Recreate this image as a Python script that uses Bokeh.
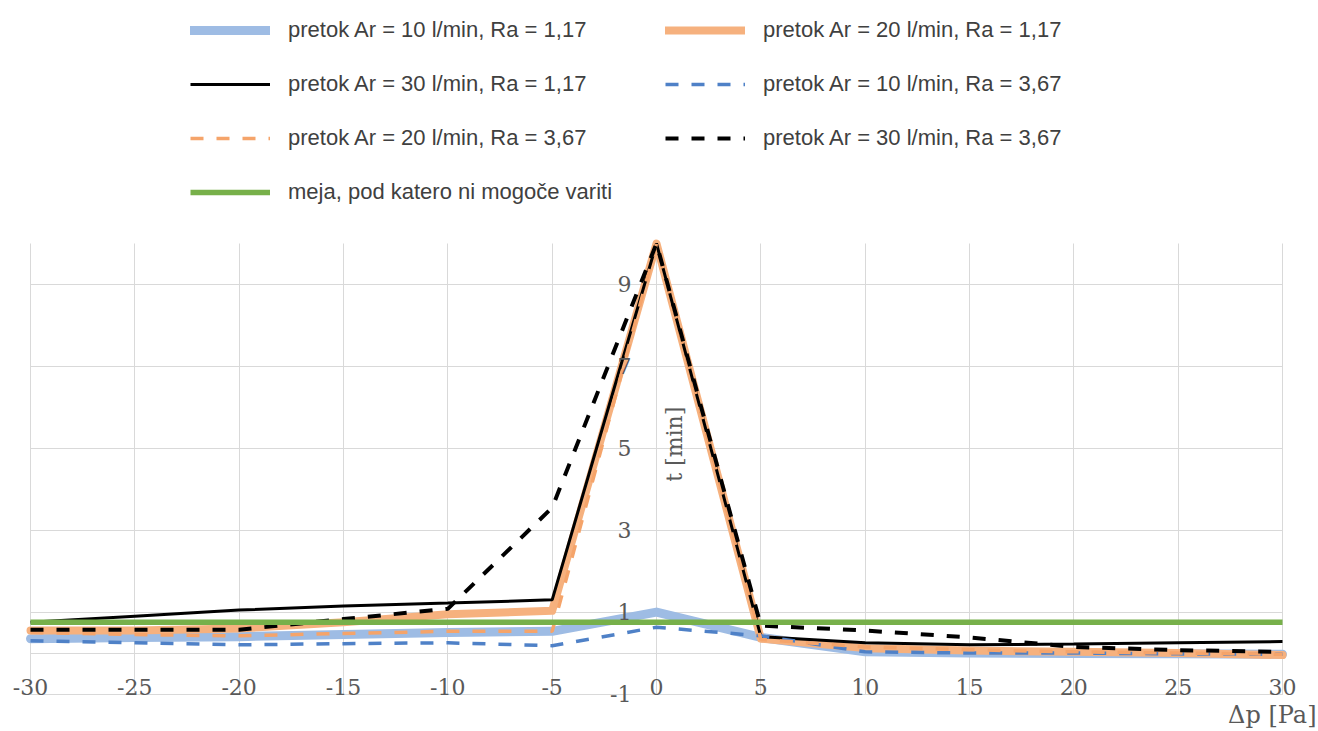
import math
from bokeh.plotting import figure
from bokeh.models import (Range1d, FixedTicker, Legend, LegendItem, Label, LinearAxis, Grid)
from bokeh.embed import file_html
from bokeh.resources import INLINE

# ---- data ----
dp = [-30, -25, -20, -15, -10, -5, 0, 5, 10, 15, 20, 25, 30]

ar10_ra117 = [0.35, 0.38, 0.40, 0.45, 0.50, 0.53, 1.00, 0.38, 0.03, 0.00, -0.01, -0.02, -0.03]
ar20_ra117 = [0.55, 0.55, 0.60, 0.75, 0.95, 1.03, 10.0, 0.35, 0.12, 0.06, 0.03, 0.00, -0.05]
ar30_ra117 = [0.75, 0.90, 1.05, 1.15, 1.22, 1.30, 10.0, 0.40, 0.25, 0.20, 0.22, 0.25, 0.28]
ar10_ra367 = [0.30, 0.25, 0.20, 0.23, 0.25, 0.18, 0.63, 0.42, 0.03, 0.00, 0.00, -0.02, -0.03]
ar20_ra367 = [0.50, 0.45, 0.42, 0.48, 0.53, 0.53, 10.0, 0.33, 0.15, 0.08, 0.03, 0.00, -0.03]
ar30_ra367 = [0.57, 0.57, 0.57, 0.83, 1.08, 3.55, 10.0, 0.67, 0.55, 0.38, 0.15, 0.07, 0.03]

limit_x = [-30, 30]
limit_y = [0.75, 0.75]

labels = [
    "pretok Ar = 10 l/min, Ra = 1,17",
    "pretok Ar = 20 l/min, Ra = 1,17",
    "pretok Ar = 30 l/min, Ra = 1,17",
    "pretok Ar = 10 l/min, Ra = 3,67",
    "pretok Ar = 20 l/min, Ra = 3,67",
    "pretok Ar = 30 l/min, Ra = 3,67",
    "meja, pod katero ni mogoče variti",
]

x_ticks = [-30, -25, -20, -15, -10, -5, 0, 5, 10, 15, 20, 25, 30]
y_ticks = [-1, 1, 3, 5, 7, 9]
y_grid = [-1, 0, 1, 3, 5, 7, 9]
x_lim = (-30, 30)
y_lim = (-1, 10)

GRID = "#D9D9D9"
TICK = "#595959"
SERIF = "DejaVu Serif"

# ---- layout: the frame covers the whole canvas; the plotted box is
# x -30..30 -> px 30..1282, y -1..10 -> px 693.5..243
W, H = 1316, 729
sx = (1282 - 30) / (x_lim[1] - x_lim[0])
sy = (693.5 - 243) / (y_lim[1] - y_lim[0])
xr = Range1d(x_lim[0] - 30 / sx, x_lim[1] + (W - 1282) / sx)
yr = Range1d(y_lim[0] - (H - 693.5) / sy, y_lim[1] + 243 / sy)

p = figure(width=W, height=H, output_backend="svg", toolbar_location=None,
           x_range=xr, y_range=yr,
           min_border_left=0, min_border_right=0, min_border_top=0, min_border_bottom=0,
           x_axis_type=None, y_axis_type=None)
p.outline_line_color = None
p.background_fill_color = "white"
p.border_fill_color = "white"

# grid limited to the plotted box
has_cb = "cross_bounds" in Grid.properties()
if has_cb:
    p.add_layout(Grid(dimension=0, ticker=FixedTicker(ticks=x_ticks), cross_bounds=y_lim,
                      grid_line_color=GRID, grid_line_width=1))
    p.add_layout(Grid(dimension=1, ticker=FixedTicker(ticks=y_grid), cross_bounds=x_lim,
                      grid_line_color=GRID, grid_line_width=1))
else:
    p.segment(x0=x_ticks, y0=[y_lim[0]] * len(x_ticks), x1=x_ticks, y1=[y_lim[1]] * len(x_ticks),
              line_color=GRID, line_width=1)
    p.segment(x0=[x_lim[0]] * len(y_grid), y0=y_grid, x1=[x_lim[1]] * len(y_grid), y1=y_grid,
              line_color=GRID, line_width=1)

# x axis along y = -1, labels straddling the line
xax = LinearAxis(fixed_location=-1, bounds=x_lim, ticker=FixedTicker(ticks=x_ticks))
xax.axis_line_color = GRID
xax.major_tick_line_color = None
xax.minor_tick_line_color = None
xax.major_tick_out = 0
xax.major_label_standoff = -15
xax.major_label_overrides = {t: str(t) for t in x_ticks}
xax.major_label_text_font = SERIF
xax.major_label_text_font_size = "22px"
xax.major_label_text_color = TICK
p.add_layout(xax, "below")

# y axis crossing at x = 0
yax = LinearAxis(fixed_location=0, bounds=y_lim, ticker=FixedTicker(ticks=y_ticks))
yax.axis_line_color = None
yax.major_tick_line_color = None
yax.minor_tick_line_color = None
yax.major_tick_out = 0
yax.major_label_standoff = 25
yax.major_label_overrides = {t: str(t) for t in y_ticks}
yax.major_label_text_font = SERIF
yax.major_label_text_font_size = "22px"
yax.major_label_text_color = TICK
p.add_layout(yax, "left")

r1 = p.line(dp, ar10_ra117, line_color="#9EBCE4", line_width=9, line_join="round", line_cap="round")
r2 = p.line(dp, ar20_ra117, line_color="#F6B17E", line_width=8, line_join="round", line_cap="round")
r3 = p.line(dp, ar30_ra117, line_color="#000000", line_width=3)
r4 = p.line(dp, ar10_ra367, line_color="#4F81C7", line_width=3.5, line_dash="13 13")
r5 = p.line(dp, ar20_ra367, line_color="#F5A46A", line_width=3.5, line_dash="13 13")
r6 = p.line(dp, ar30_ra367, line_color="#000000", line_width=4, line_dash="13 13")
r7 = p.line(limit_x, limit_y, line_color="#77B04A", line_width=5.5)

legend_h = 4 * 36 + 3 * 18
legend = Legend(
    items=[LegendItem(label=l, renderers=[r]) for l, r in zip(labels, [r1, r2, r3, r4, r5, r6, r7])],
    orientation="horizontal", ncols=2, location=(190, H - 12 - legend_h),
    glyph_width=80, glyph_height=36, label_height=36, label_width=359,
    label_standoff=18, spacing=18, padding=0, margin=0,
    border_line_color=None, background_fill_alpha=0,
    label_text_font="Liberation Sans", label_text_font_size="22px", label_text_color="#404040",
)
p.add_layout(legend, "center")

p.add_layout(Label(x=0, y=5.1, x_offset=18, angle=math.pi / 2, text="t [min]",
                   text_align="center", text_baseline="middle",
                   text_font=SERIF, text_font_size="22px", text_color=TICK))
p.add_layout(Label(x=30, y=-1, x_offset=34, y_offset=-21, text="Δp [Pa]",
                   text_align="right", text_baseline="middle",
                   text_font=SERIF, text_font_size="24px", text_color=TICK))

open("out.html", "w").write(file_html(p, INLINE))
